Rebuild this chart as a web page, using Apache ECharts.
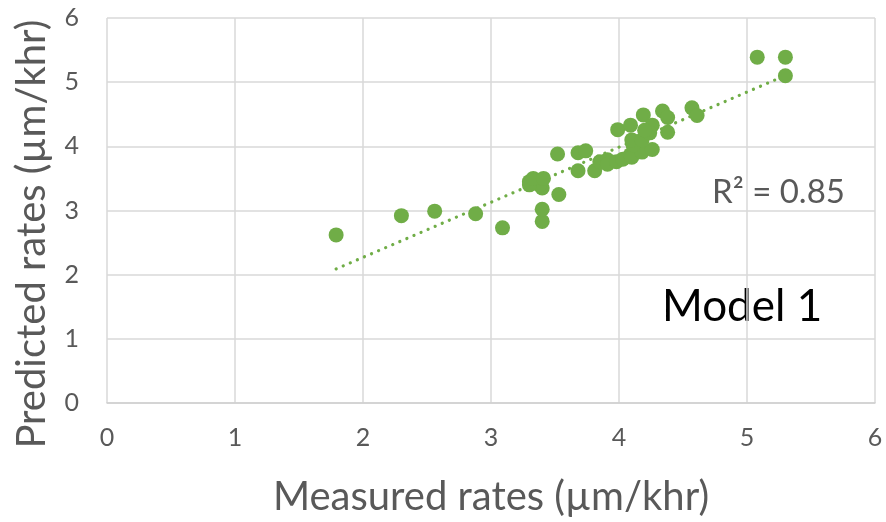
<!DOCTYPE html>
<html>
<head>
<meta charset="utf-8">
<script src="https://cdn.jsdelivr.net/npm/echarts@6/dist/echarts.min.js"></script>
<style>
  html, body { margin: 0; padding: 0; background: #fff; }
  #main { width: 886px; height: 522px; }
</style>
</head>
<body>
<div id="main"></div>
<script>
// measured vs predicted (µm/khr)
var measured = [1.79, 2.30, 2.56, 2.88, 3.09, 3.40, 3.40, 3.53, 3.40, 3.38, 3.30, 3.30, 3.33, 3.41,
  3.52, 3.68, 3.74, 3.68, 3.81, 3.85, 3.91, 3.91, 3.98, 4.03, 4.09, 4.10, 4.18, 4.26, 4.11, 4.10,
  4.18, 3.99, 4.09, 4.19, 4.26, 4.24, 4.20, 4.34, 4.38, 4.38, 4.57, 4.61, 5.08, 5.30, 5.30];
var predicted = [2.62, 2.92, 2.99, 2.95, 2.73, 2.83, 3.02, 3.25, 3.35, 3.40, 3.45, 3.40, 3.50, 3.50,
  3.88, 3.90, 3.93, 3.62, 3.62, 3.76, 3.79, 3.72, 3.76, 3.80, 3.87, 3.83, 3.91, 3.95, 4.02, 4.10,
  4.10, 4.26, 4.33, 4.49, 4.33, 4.21, 4.25, 4.55, 4.45, 4.22, 4.60, 4.48, 5.39, 5.39, 5.10];
var axisTicks = [0, 1, 2, 3, 4, 5, 6];
var r2Text = 'R² = 0.85';
var modelName = 'Model 1';

var green = '#70AD47';
var grey = '#595959';
var font = 'Lato, "Open Sans", sans-serif';

var points = measured.map(function (x, i) { return [x, predicted[i]]; });

// linear fit like Excel's trendline
function fit(xs, ys) {
  var n = xs.length, sx = 0, sy = 0, sxx = 0, sxy = 0;
  for (var i = 0; i < n; i++) {
    sx += xs[i]; sy += ys[i]; sxx += xs[i] * xs[i]; sxy += xs[i] * ys[i];
  }
  var b = (n * sxy - sx * sy) / (n * sxx - sx * sx);
  return { slope: b, intercept: (sy - b * sx) / n };
}
var lf = fit(measured, predicted);
var xMin = Math.min.apply(null, measured);
var xMax = Math.max.apply(null, measured);
var trend = [[xMin, lf.intercept + lf.slope * xMin], [xMax, lf.intercept + lf.slope * xMax]];

var chart = echarts.init(document.getElementById('main'));

var option = {
  backgroundColor: '#fff',
  animation: false,
  grid: { left: 107, right: 11, top: 18, bottom: 119, outerBoundsMode: 'none' },
  xAxis: {
    type: 'value',
    min: axisTicks[0],
    max: axisTicks[axisTicks.length - 1],
    interval: 1,
    name: 'Measured rates (µm/khr)',
    nameLocation: 'middle',
    nameGap: 74,
    nameTextStyle: { fontFamily: font, fontSize: 40, color: grey },
    axisLine: { show: true, lineStyle: { color: '#d0d0d0', width: 1.5 } },
    axisTick: { show: false },
    axisLabel: { fontFamily: font, fontSize: 25, color: grey, margin: 22 },
    splitLine: { show: true, lineStyle: { color: '#d9d9d9', width: 1.5 } }
  },
  yAxis: {
    type: 'value',
    min: axisTicks[0],
    max: axisTicks[axisTicks.length - 1],
    interval: 1,
    axisLine: { show: false },
    axisTick: { show: false },
    axisLabel: { fontFamily: font, fontSize: 25, color: grey, margin: 28 },
    splitLine: { show: true, lineStyle: { color: '#d9d9d9', width: 1.5 } }
  },
  series: [
    {
      type: 'line',
      data: trend,
      symbol: 'none',
      z: 1,
      lineStyle: { color: green, width: 3.2, type: [0.1, 7.6], cap: 'round' }
    },
    {
      type: 'scatter',
      data: points,
      symbol: 'circle',
      symbolSize: 15,
      z: 2,
      itemStyle: { color: green, opacity: 1 }
    }
  ],
  graphic: [
    {
      // y axis title sits lower than the plot centre in the original
      type: 'text',
      x: 32, y: 234,
      rotation: Math.PI / 2,
      style: {
        text: 'Predicted rates (µm/khr)', fontFamily: font, fontSize: 40, fill: grey,
        align: 'center', verticalAlign: 'middle'
      }
    },
    {
      type: 'text',
      left: 712, top: 176,
      style: { text: r2Text, fontFamily: font, fontSize: 33, fill: grey }
    },
    {
      type: 'text',
      left: 662, top: 285,
      style: { text: modelName, fontFamily: font, fontSize: 44, fill: '#000' }
    }
  ]
};

chart.setOption(option);
window.addEventListener('resize', function () { chart.resize(); });
</script>
</body>
</html>
